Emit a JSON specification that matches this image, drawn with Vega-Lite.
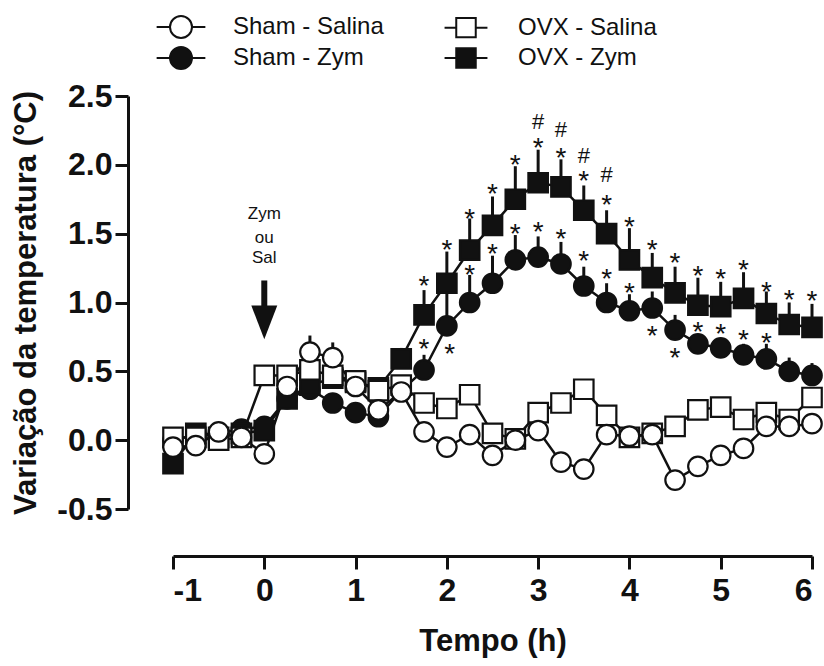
{
  "$schema": "https://vega.github.io/schema/vega-lite/v6.json",
  "width": 639,
  "height": 413,
  "autosize": "none",
  "padding": {"left": 173, "top": 96, "right": 12, "bottom": 157},
  "background": "white",
  "config": {
    "view": {"stroke": null},
    "font": "Liberation Sans",
    "axis": {
      "grid": false,
      "domainColor": "#111",
      "tickColor": "#111",
      "labelColor": "#111",
      "titleColor": "#111",
      "domainWidth": 3,
      "tickWidth": 3,
      "tickSize": 13,
      "labelFont": "Liberation Sans",
      "labelFontSize": 32,
      "labelFontWeight": "bold",
      "titleFont": "Liberation Sans",
      "titleFontSize": 31,
      "titleFontWeight": "bold"
    },
    "legend": {
      "title": null, "orient": "none", "legendX": -4, "legendY": -81,
      "columns": 2, "columnPadding": 56, "rowPadding": 1,
      "labelFont": "Liberation Sans", "labelFontSize": 24, "labelColor": "#111",
      "labelOffset": 40, "symbolStrokeWidth": 2, "symbolStrokeColor": "#111"
    }
  },
  "datasets": {
    "series": [
      {"g": "Sham - Zym", "t": -1, "v": 0.0},
      {"g": "Sham - Zym", "t": -0.75, "v": 0.04},
      {"g": "Sham - Zym", "t": -0.5, "v": 0.05},
      {"g": "Sham - Zym", "t": -0.25, "v": 0.08},
      {"g": "Sham - Zym", "t": 0, "v": 0.1},
      {"g": "Sham - Zym", "t": 0.25, "v": 0.3},
      {"g": "Sham - Zym", "t": 0.5, "v": 0.37},
      {"g": "Sham - Zym", "t": 0.75, "v": 0.27},
      {"g": "Sham - Zym", "t": 1, "v": 0.2},
      {"g": "Sham - Zym", "t": 1.25, "v": 0.17},
      {"g": "Sham - Zym", "t": 1.5, "v": 0.36},
      {"g": "Sham - Zym", "t": 1.75, "v": 0.51, "hi": 0.62},
      {"g": "Sham - Zym", "t": 2, "v": 0.83, "hi": 1.13},
      {"g": "Sham - Zym", "t": 2.25, "v": 1.0, "hi": 1.2},
      {"g": "Sham - Zym", "t": 2.5, "v": 1.14, "hi": 1.34},
      {"g": "Sham - Zym", "t": 2.75, "v": 1.31, "hi": 1.49},
      {"g": "Sham - Zym", "t": 3, "v": 1.33, "hi": 1.48},
      {"g": "Sham - Zym", "t": 3.25, "v": 1.28, "hi": 1.44},
      {"g": "Sham - Zym", "t": 3.5, "v": 1.12, "hi": 1.26},
      {"g": "Sham - Zym", "t": 3.75, "v": 1.0, "hi": 1.14},
      {"g": "Sham - Zym", "t": 4, "v": 0.94, "hi": 1.06},
      {"g": "Sham - Zym", "t": 4.25, "v": 0.96, "hi": 1.08},
      {"g": "Sham - Zym", "t": 4.5, "v": 0.8, "hi": 0.91},
      {"g": "Sham - Zym", "t": 4.75, "v": 0.7, "hi": 0.76},
      {"g": "Sham - Zym", "t": 5, "v": 0.67, "hi": 0.74},
      {"g": "Sham - Zym", "t": 5.25, "v": 0.62, "hi": 0.7},
      {"g": "Sham - Zym", "t": 5.5, "v": 0.59, "hi": 0.7},
      {"g": "Sham - Zym", "t": 5.75, "v": 0.5, "hi": 0.6},
      {"g": "Sham - Zym", "t": 6, "v": 0.47, "hi": 0.56},
      {"g": "OVX - Zym", "t": -1, "v": -0.17},
      {"g": "OVX - Zym", "t": -0.75, "v": 0.05},
      {"g": "OVX - Zym", "t": -0.5, "v": 0.02},
      {"g": "OVX - Zym", "t": -0.25, "v": 0.05},
      {"g": "OVX - Zym", "t": 0, "v": 0.07},
      {"g": "OVX - Zym", "t": 0.25, "v": 0.3},
      {"g": "OVX - Zym", "t": 0.5, "v": 0.4},
      {"g": "OVX - Zym", "t": 0.75, "v": 0.45},
      {"g": "OVX - Zym", "t": 1, "v": 0.42},
      {"g": "OVX - Zym", "t": 1.25, "v": 0.38},
      {"g": "OVX - Zym", "t": 1.5, "v": 0.59, "hi": 0.67},
      {"g": "OVX - Zym", "t": 1.75, "v": 0.91, "hi": 1.09},
      {"g": "OVX - Zym", "t": 2, "v": 1.14, "hi": 1.37},
      {"g": "OVX - Zym", "t": 2.25, "v": 1.38, "hi": 1.61},
      {"g": "OVX - Zym", "t": 2.5, "v": 1.56, "hi": 1.77},
      {"g": "OVX - Zym", "t": 2.75, "v": 1.75, "hi": 1.99},
      {"g": "OVX - Zym", "t": 3, "v": 1.87, "hi": 2.11},
      {"g": "OVX - Zym", "t": 3.25, "v": 1.84, "hi": 2.04},
      {"g": "OVX - Zym", "t": 3.5, "v": 1.67, "hi": 1.85},
      {"g": "OVX - Zym", "t": 3.75, "v": 1.5, "hi": 1.67},
      {"g": "OVX - Zym", "t": 4, "v": 1.31, "hi": 1.54},
      {"g": "OVX - Zym", "t": 4.25, "v": 1.18, "hi": 1.36},
      {"g": "OVX - Zym", "t": 4.5, "v": 1.07, "hi": 1.26},
      {"g": "OVX - Zym", "t": 4.75, "v": 0.98, "hi": 1.18},
      {"g": "OVX - Zym", "t": 5, "v": 0.97, "hi": 1.15},
      {"g": "OVX - Zym", "t": 5.25, "v": 1.03, "hi": 1.22},
      {"g": "OVX - Zym", "t": 5.5, "v": 0.92, "hi": 1.08},
      {"g": "OVX - Zym", "t": 5.75, "v": 0.84, "hi": 1.0},
      {"g": "OVX - Zym", "t": 6, "v": 0.82, "hi": 0.99},
      {"g": "OVX - Salina", "t": -1, "v": 0.02},
      {"g": "OVX - Salina", "t": -0.75, "v": 0.02},
      {"g": "OVX - Salina", "t": -0.5, "v": 0.0},
      {"g": "OVX - Salina", "t": -0.25, "v": 0.02},
      {"g": "OVX - Salina", "t": 0, "v": 0.47},
      {"g": "OVX - Salina", "t": 0.25, "v": 0.47},
      {"g": "OVX - Salina", "t": 0.5, "v": 0.51},
      {"g": "OVX - Salina", "t": 0.75, "v": 0.47},
      {"g": "OVX - Salina", "t": 1, "v": 0.43},
      {"g": "OVX - Salina", "t": 1.25, "v": 0.36},
      {"g": "OVX - Salina", "t": 1.5, "v": 0.4},
      {"g": "OVX - Salina", "t": 1.75, "v": 0.27},
      {"g": "OVX - Salina", "t": 2, "v": 0.23},
      {"g": "OVX - Salina", "t": 2.25, "v": 0.33},
      {"g": "OVX - Salina", "t": 2.5, "v": 0.05},
      {"g": "OVX - Salina", "t": 2.75, "v": 0.01},
      {"g": "OVX - Salina", "t": 3, "v": 0.2},
      {"g": "OVX - Salina", "t": 3.25, "v": 0.27},
      {"g": "OVX - Salina", "t": 3.5, "v": 0.37},
      {"g": "OVX - Salina", "t": 3.75, "v": 0.18},
      {"g": "OVX - Salina", "t": 4, "v": 0.02},
      {"g": "OVX - Salina", "t": 4.25, "v": 0.05},
      {"g": "OVX - Salina", "t": 4.5, "v": 0.1},
      {"g": "OVX - Salina", "t": 4.75, "v": 0.22},
      {"g": "OVX - Salina", "t": 5, "v": 0.24},
      {"g": "OVX - Salina", "t": 5.25, "v": 0.15},
      {"g": "OVX - Salina", "t": 5.5, "v": 0.2},
      {"g": "OVX - Salina", "t": 5.75, "v": 0.15},
      {"g": "OVX - Salina", "t": 6, "v": 0.31},
      {"g": "Sham - Salina", "t": -1, "v": -0.05},
      {"g": "Sham - Salina", "t": -0.75, "v": -0.04},
      {"g": "Sham - Salina", "t": -0.5, "v": 0.06},
      {"g": "Sham - Salina", "t": -0.25, "v": 0.02},
      {"g": "Sham - Salina", "t": 0, "v": -0.1},
      {"g": "Sham - Salina", "t": 0.25, "v": 0.39, "hi": 0.45},
      {"g": "Sham - Salina", "t": 0.5, "v": 0.64, "hi": 0.76},
      {"g": "Sham - Salina", "t": 0.75, "v": 0.6, "hi": 0.71},
      {"g": "Sham - Salina", "t": 1, "v": 0.39},
      {"g": "Sham - Salina", "t": 1.25, "v": 0.22},
      {"g": "Sham - Salina", "t": 1.5, "v": 0.35, "hi": 0.46},
      {"g": "Sham - Salina", "t": 1.75, "v": 0.06},
      {"g": "Sham - Salina", "t": 2, "v": -0.05},
      {"g": "Sham - Salina", "t": 2.25, "v": 0.04},
      {"g": "Sham - Salina", "t": 2.5, "v": -0.11},
      {"g": "Sham - Salina", "t": 2.75, "v": 0.0},
      {"g": "Sham - Salina", "t": 3, "v": 0.07},
      {"g": "Sham - Salina", "t": 3.25, "v": -0.16},
      {"g": "Sham - Salina", "t": 3.5, "v": -0.21},
      {"g": "Sham - Salina", "t": 3.75, "v": 0.04},
      {"g": "Sham - Salina", "t": 4, "v": 0.03},
      {"g": "Sham - Salina", "t": 4.25, "v": 0.04},
      {"g": "Sham - Salina", "t": 4.5, "v": -0.29},
      {"g": "Sham - Salina", "t": 4.75, "v": -0.19},
      {"g": "Sham - Salina", "t": 5, "v": -0.11},
      {"g": "Sham - Salina", "t": 5.25, "v": -0.06},
      {"g": "Sham - Salina", "t": 5.5, "v": 0.1},
      {"g": "Sham - Salina", "t": 5.75, "v": 0.1},
      {"g": "Sham - Salina", "t": 6, "v": 0.12}
    ],
    "marks": [
      {"t": 1.75, "v": 1.17, "label": "*"},
      {"t": 2, "v": 1.43, "label": "*"},
      {"t": 2.25, "v": 1.66, "label": "*"},
      {"t": 2.5, "v": 1.84, "label": "*"},
      {"t": 2.75, "v": 2.05, "label": "*"},
      {"t": 3, "v": 2.17, "label": "*"},
      {"t": 3.25, "v": 2.1, "label": "*"},
      {"t": 3.5, "v": 1.93, "label": "*"},
      {"t": 3.75, "v": 1.76, "label": "*"},
      {"t": 4, "v": 1.6, "label": "*"},
      {"t": 4.25, "v": 1.43, "label": "*"},
      {"t": 4.5, "v": 1.34, "label": "*"},
      {"t": 4.75, "v": 1.24, "label": "*"},
      {"t": 5, "v": 1.22, "label": "*"},
      {"t": 5.25, "v": 1.29, "label": "*"},
      {"t": 5.5, "v": 1.13, "label": "*"},
      {"t": 5.75, "v": 1.07, "label": "*"},
      {"t": 6, "v": 1.06, "label": "*"},
      {"t": 1.75, "v": 0.71, "label": "*"},
      {"t": 2.03, "v": 0.68, "label": "*"},
      {"t": 2.25, "v": 1.25, "label": "*"},
      {"t": 2.5, "v": 1.4, "label": "*"},
      {"t": 2.75, "v": 1.55, "label": "*"},
      {"t": 3, "v": 1.56, "label": "*"},
      {"t": 3.25, "v": 1.51, "label": "*"},
      {"t": 3.5, "v": 1.35, "label": "*"},
      {"t": 3.75, "v": 1.22, "label": "*"},
      {"t": 4, "v": 1.12, "label": "*"},
      {"t": 4.25, "v": 0.81, "label": "*"},
      {"t": 4.5, "v": 0.65, "label": "*"},
      {"t": 4.75, "v": 0.84, "label": "*"},
      {"t": 5, "v": 0.82, "label": "*"},
      {"t": 5.25, "v": 0.78, "label": "*"},
      {"t": 5.5, "v": 0.76, "label": "*"},
      {"t": 3, "v": 2.32, "label": "#"},
      {"t": 3.25, "v": 2.26, "label": "#"},
      {"t": 3.5, "v": 2.07, "label": "#"},
      {"t": 3.75, "v": 1.93, "label": "#"}
    ],
    "note": [
      {"t": 0, "v": 1.64, "label": "Zym"},
      {"t": 0, "v": 1.47, "label": "ou"},
      {"t": 0, "v": 1.32, "label": "Sal"}
    ],
    "arrow": [
      {"t": 0, "top": 1.16, "bottom": 0.96, "head": 0.855}
    ]
  },
  "layer": [
    {
      "mark": {"type": "rule", "strokeDash": [0.1, 13.5], "strokeCap": "round", "strokeWidth": 4.5, "color": "#111"},
      "encoding": {
        "x": {"datum": -1.43, "type": "quantitative", "scale": {"domain": [-1, 6], "nice": false, "zero": false}},
        "x2": {"datum": 6},
        "y": {"datum": 0, "type": "quantitative", "scale": {"domain": [-0.5, 2.5], "nice": false, "zero": false}}
      }
    },
    {
      "data": {"name": "series"},
      "transform": [{"filter": "datum.hi != null"}],
      "mark": {"type": "rule", "strokeWidth": 3, "color": "#111"},
      "encoding": {
        "x": {"field": "t", "type": "quantitative"},
        "y": {"field": "v", "type": "quantitative"},
        "y2": {"field": "hi"}
      }
    },
    {
      "data": {"name": "series"},
      "mark": {"type": "line", "strokeWidth": 2.5, "color": "#111"},
      "encoding": {
        "x": {"field": "t", "type": "quantitative"},
        "y": {"field": "v", "type": "quantitative"},
        "detail": {"field": "g"}
      }
    },
    {
      "data": {"name": "series"},
      "mark": {"type": "point", "filled": false, "stroke": "#111", "strokeWidth": 2.2, "opacity": 1},
      "encoding": {
        "x": {"field": "t", "type": "quantitative", "axis": {
          "orient": "bottom", "offset": 47, "values": [-1, 0, 1, 2, 3, 4, 5, 6], "format": "d",
          "labelExpr": "replace(datum.label, '\u2212', '-')",
          "labelPadding": 6, "title": "Tempo (h)", "titlePadding": 20
        }},
        "y": {"field": "v", "type": "quantitative", "axis": {
          "orient": "left", "offset": 45, "values": [-0.5, 0, 0.5, 1, 1.5, 2, 2.5],
          "format": ".1f", "labelExpr": "replace(datum.label, '\u2212', '-')",
          "labelPadding": 3, "title": "Variação da temperatura (°C)",
          "titlePadding": 14
        }},
        "shape": {"field": "g", "type": "nominal",
          "scale": {"domain": ["OVX - Zym", "OVX - Salina", "Sham - Zym", "Sham - Salina"], "range": ["square", "square", "circle", "circle"]},
          "legend": null
        },
        "fill": {"field": "g", "type": "nominal",
          "scale": {"domain": ["Sham - Salina", "Sham - Zym", "OVX - Salina", "OVX - Zym"], "range": ["#ffffff", "#111111", "#ffffff", "#111111"]},
          "legend": {
            "encoding": {"symbols": {
              "shape": {"value": {"expr": "indexof(datum.value, 'Sham') == 0 ? 'M-2.5,0H-1.128A1.128,1.128 0 1,1 1.128,0A1.128,1.128 0 1,1 -1.128,0M1.128,0H2.5' : 'M-2.2,0H-1M-1,-1H1V1H-1ZM1,0H2.2'"}},
              "strokeWidth": {"value": 2},
              "stroke": {"value": "#111"}
            }}
          }
        },
        "size": {"field": "g", "type": "nominal",
          "scale": {"domain": ["Sham - Salina", "Sham - Zym", "OVX - Salina", "OVX - Zym"], "range": [380, 380, 470, 470]},
          "legend": {
            "encoding": {"symbols": {
              "shape": {"value": {"expr": "indexof(datum.value, 'Sham') == 0 ? 'M-2.5,0H-1.128A1.128,1.128 0 1,1 1.128,0A1.128,1.128 0 1,1 -1.128,0M1.128,0H2.5' : 'M-2.2,0H-1M-1,-1H1V1H-1ZM1,0H2.2'"}},
              "strokeWidth": {"value": 2},
              "stroke": {"value": "#111"}
            }}
          }
        }
      }
    },
    {
      "data": {"name": "arrow"},
      "mark": {"type": "rule", "strokeWidth": 6, "color": "#111"},
      "encoding": {
        "x": {"field": "t", "type": "quantitative"},
        "y": {"field": "top", "type": "quantitative"},
        "y2": {"field": "bottom"}
      }
    },
    {
      "data": {"name": "arrow"},
      "mark": {"type": "point", "shape": "M-1,-1.3L1,-1.3L0,1.3Z", "size": 676, "filled": true, "color": "#111", "opacity": 1},
      "encoding": {
        "x": {"field": "t", "type": "quantitative"},
        "y": {"field": "head", "type": "quantitative"}
      }
    },
    {
      "data": {"name": "note"},
      "mark": {"type": "text", "font": "Liberation Sans Narrow, Liberation Sans", "fontSize": 17, "baseline": "middle", "align": "center", "color": "#111"},
      "encoding": {
        "x": {"field": "t", "type": "quantitative"},
        "y": {"field": "v", "type": "quantitative"},
        "text": {"field": "label"}
      }
    },
    {
      "data": {"name": "marks"},
      "transform": [{"filter": "datum.label == '*'"}],
      "mark": {"type": "text", "fontSize": 28, "baseline": "alphabetic", "align": "center", "dy": 16, "color": "#111"},
      "encoding": {
        "x": {"field": "t", "type": "quantitative"},
        "y": {"field": "v", "type": "quantitative"},
        "text": {"field": "label"}
      }
    },
    {
      "data": {"name": "marks"},
      "transform": [{"filter": "datum.label == '#'"}],
      "mark": {"type": "text", "fontSize": 22, "baseline": "alphabetic", "align": "center", "dy": 8, "color": "#111"},
      "encoding": {
        "x": {"field": "t", "type": "quantitative"},
        "y": {"field": "v", "type": "quantitative"},
        "text": {"field": "label"}
      }
    }
  ]
}
